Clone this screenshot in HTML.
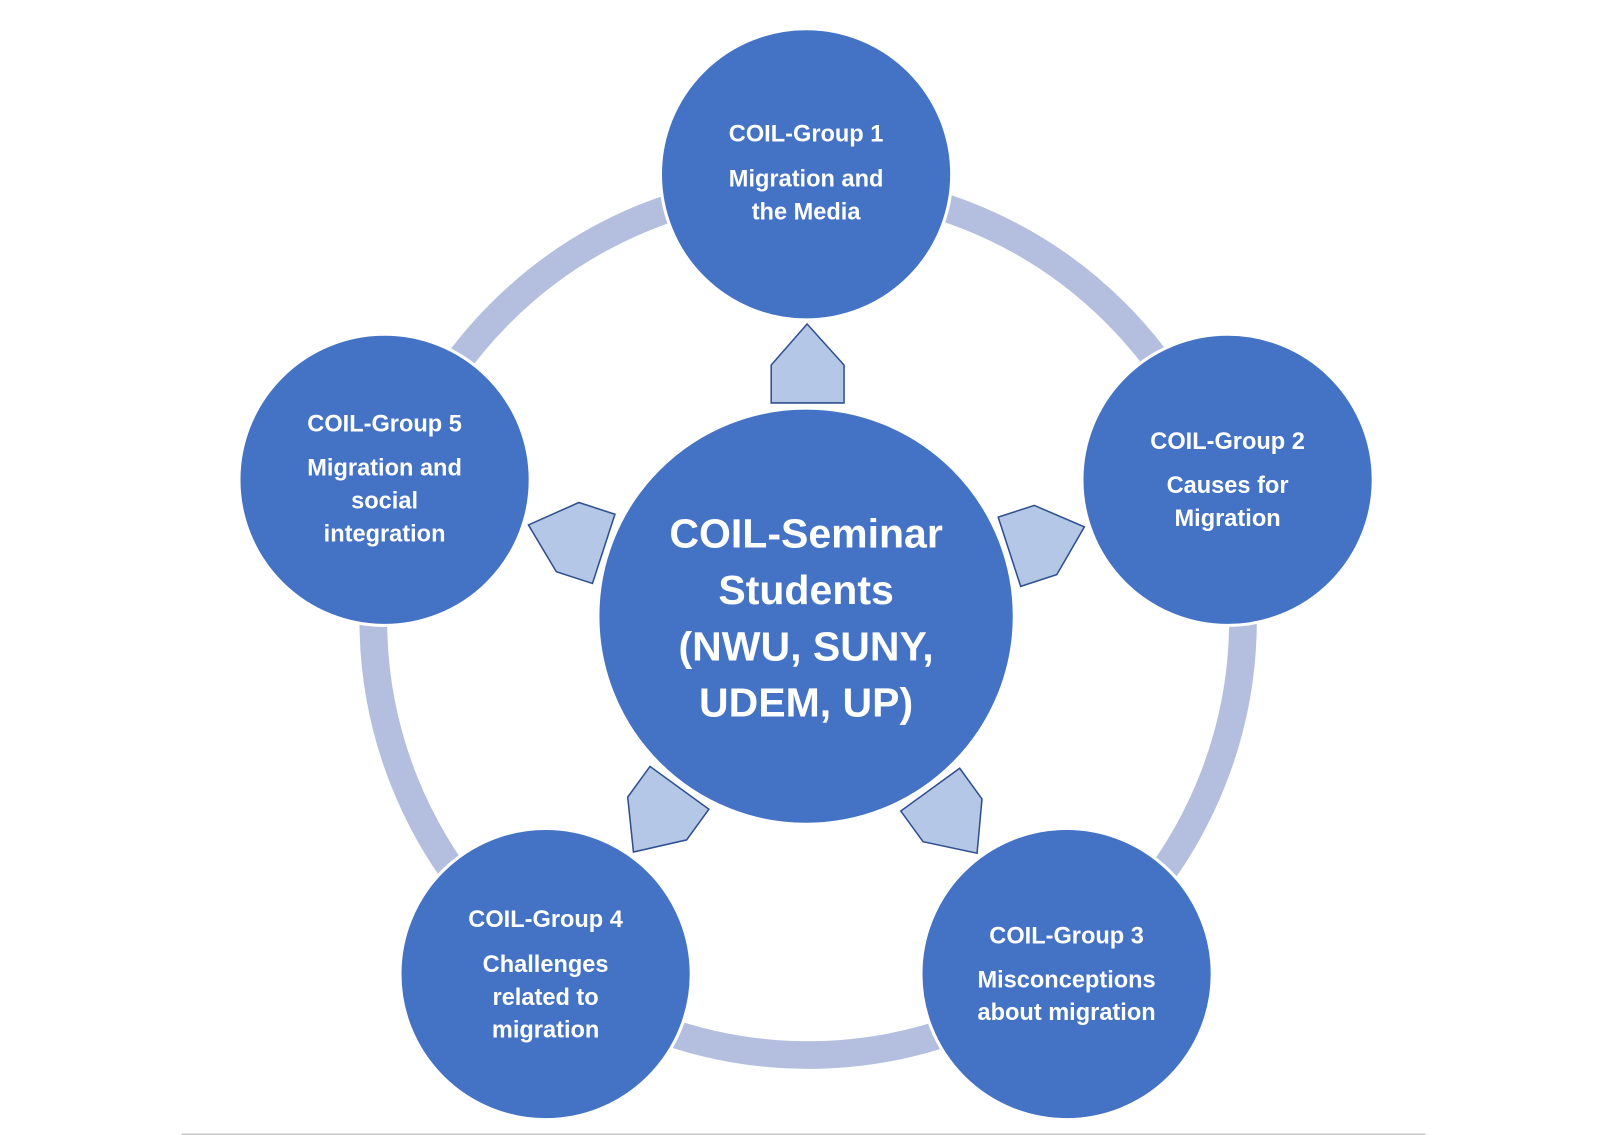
<!DOCTYPE html>
<html><head><meta charset="utf-8"><style>
html,body{margin:0;padding:0;background:#fff;}
svg{display:block;}
text{font-family:"Liberation Sans",sans-serif;fill:#fff;font-weight:bold;text-anchor:middle;}
</style></head><body>
<svg width="1605" height="1135" viewBox="0 0 1565 1107" preserveAspectRatio="none">
<circle cx="788" cy="605" r="424" fill="none" stroke="#b4bfe0" stroke-width="27"/>
<g fill="#b4c7e7" stroke="#2f4f8f" stroke-width="1.5">
<polygon id="a" points="752,393 823,393 823,356 787,316 752,356"/>
<use href="#a" transform="rotate(72 786 601)"/>
<use href="#a" transform="rotate(144 786 601)"/>
<use href="#a" transform="rotate(216 786 601)"/>
<use href="#a" transform="rotate(288 786 601)"/>
</g>
<g fill="#4472c4" stroke="#fff" stroke-width="3">
<circle cx="786" cy="601" r="203"/>
<circle cx="786" cy="170" r="142"/>
<circle cx="1197" cy="468" r="142"/>
<circle cx="375" cy="468" r="142"/>
<circle cx="532" cy="950" r="142"/>
<circle cx="1040" cy="950" r="142"/>
</g>
<g font-size="40">
<text x="786" y="534">COIL-Seminar</text>
<text x="786" y="589">Students</text>
<text x="786" y="644">(NWU, SUNY,</text>
<text x="786" y="699">UDEM, UP)</text>
</g>
<g font-size="23">
<text x="786" y="138">COIL-Group 1</text>
<text x="786" y="182">Migration and</text>
<text x="786" y="214">the Media</text>
<text x="1197" y="438">COIL-Group 2</text>
<text x="1197" y="481">Causes for</text>
<text x="1197" y="513">Migration</text>
<text x="375" y="421">COIL-Group 5</text>
<text x="375" y="464">Migration and</text>
<text x="375" y="496">social</text>
<text x="375" y="528">integration</text>
<text x="532" y="904">COIL-Group 4</text>
<text x="532" y="948">Challenges</text>
<text x="532" y="980">related to</text>
<text x="532" y="1012">migration</text>
<text x="1040" y="920">COIL-Group 3</text>
<text x="1040" y="963">Misconceptions</text>
<text x="1040" y="995">about migration</text>
</g>
<line x1="177" y1="1107" x2="1390" y2="1107" stroke="#c8c8c8" stroke-width="3"/>
</svg>
</body></html>
